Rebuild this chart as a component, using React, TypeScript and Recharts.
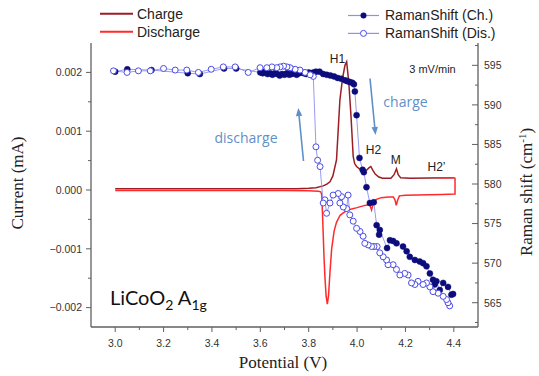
import React from 'react';
import { ComposedChart, Line, XAxis, YAxis, Customized } from 'recharts';

// ---- Current (mA) vs potential (V) ----
const chargePotential = [3.0, 3.2, 3.4, 3.6, 3.7, 3.75, 3.8, 3.83, 3.86, 3.875, 3.888, 3.9, 3.915, 3.929, 3.94, 3.95, 3.957, 3.966, 3.975, 3.984, 3.99, 3.998, 4.01, 4.025, 4.04, 4.05, 4.057, 4.065, 4.075, 4.09, 4.105, 4.14, 4.153, 4.163, 4.17, 4.18, 4.22, 4.3, 4.4];
const chargeCurrent = [0.00002, 0.00002, 0.00002, 0.00002, 0.00002, 0.000022, 0.000028, 0.00004, 0.00007, 0.0001, 0.00014, 0.00024, 0.00051, 0.00153, 0.0019, 0.00212, 0.00218, 0.00182, 0.00125, 0.00057, 0.00045, 0.0004, 0.00036, 0.00033, 0.00034, 0.00038, 0.0004, 0.00034, 0.00027, 0.00022, 0.0002, 0.0002, 0.00026, 0.00036, 0.00026, 0.00021, 0.0002, 0.000205, 0.00021];

const dischargePotential = [4.34, 4.4, 4.405, 4.405, 4.35, 4.3, 4.25, 4.2, 4.175, 4.168, 4.162, 4.157, 4.15, 4.13, 4.1, 4.08, 4.068, 4.06, 4.053, 4.045, 4.025, 4.0, 3.97, 3.95, 3.93, 3.915, 3.905, 3.895, 3.888, 3.882, 3.877, 3.872, 3.867, 3.863, 3.86, 3.857, 3.854, 3.85, 3.84, 3.8, 3.7, 3.5, 3.3, 3.0];
const dischargeCurrent = [0.000207, 0.00021, 0.0002, -0.00007, -0.000075, -0.00008, -0.000085, -0.00009, -0.0001, -0.00017, -0.00026, -0.00017, -0.00012, -0.00012, -0.00013, -0.00016, -0.00021, -0.00034, -0.00026, -0.00025, -0.00027, -0.0003, -0.00033, -0.00037, -0.00043, -0.00055, -0.0007, -0.001, -0.0014, -0.0018, -0.00194, -0.0018, -0.00147, -0.0011, -0.00074, -0.0004, -0.00008, -0.00003, -0.00002, -0.000012, -0.00001, -0.00001, -0.00001, -0.00001];

// ---- Raman shift (cm-1) vs potential (V) ----
const ramanChargePotential = [3.0, 3.05, 3.15, 3.3, 3.35, 3.45, 3.5, 3.6, 3.61, 3.62, 3.63, 3.64, 3.65, 3.66, 3.67, 3.68, 3.69, 3.7, 3.71, 3.72, 3.73, 3.74, 3.75, 3.76, 3.77, 3.78, 3.79, 3.8, 3.81, 3.82, 3.83, 3.845, 3.86, 3.875, 3.89, 3.905, 3.92, 3.935, 3.95, 3.96, 3.97, 3.98, 3.987, 3.991, 3.998, 4.01, 4.023, 4.028, 4.039, 4.053, 4.069, 4.081, 4.091, 4.094, 4.124, 4.136, 4.149, 4.163, 4.19, 4.205, 4.218, 4.239, 4.259, 4.273, 4.287, 4.301, 4.314, 4.321, 4.328, 4.342, 4.356, 4.376, 4.39, 4.397];
const ramanChargeShift = [594.2, 594.5, 594.4, 594.0, 593.9, 594.6, 594.6, 594.1, 594.0, 594.2, 593.9, 594.0, 593.8, 594.0, 593.9, 593.7, 593.9, 593.8, 594.0, 593.8, 593.9, 594.0, 593.8, 594.0, 594.1, 594.0, 593.9, 594.1, 594.0, 594.1, 594.2, 594.2, 593.9, 593.8, 593.7, 593.6, 593.4, 593.3, 593.1, 593.0, 592.9, 592.8, 592.6, 591.7, 588.7, 583.3, 581.8, 581.5, 579.6, 577.6, 577.7, 574.8, 573.6, 574.2, 571.9, 572.9, 572.8, 572.5, 572.1, 571.5, 570.8, 570.4, 570.2, 570.0, 569.6, 568.7, 567.9, 567.3, 567.7, 566.6, 567.5, 567.0, 566.0, 566.1];

const ramanDischargePotential = [4.383, 4.376, 4.37, 4.356, 4.335, 4.314, 4.301, 4.287, 4.273, 4.252, 4.239, 4.225, 4.211, 4.197, 4.177, 4.163, 4.149, 4.128, 4.122, 4.108, 4.094, 4.083, 4.07, 4.06, 4.046, 4.032, 4.025, 4.012, 3.998, 3.984, 3.97, 3.963, 3.957, 3.943, 3.936, 3.929, 3.922, 3.901, 3.888, 3.874, 3.867, 3.86, 3.847, 3.837, 3.83, 3.819, 3.806, 3.785, 3.764, 3.744, 3.723, 3.71, 3.696, 3.682, 3.668, 3.648, 3.627, 3.599, 3.55, 3.496, 3.447, 3.397, 3.344, 3.296, 3.248, 3.2, 3.145, 3.096, 3.049, 2.993];
const ramanDischargeShift = [564.6, 565.0, 565.4, 565.8, 566.2, 566.4, 567.0, 567.5, 567.3, 567.7, 567.3, 567.5, 568.5, 568.7, 568.5, 569.2, 569.8, 569.8, 570.4, 570.8, 571.3, 572.1, 572.1, 572.1, 572.3, 572.5, 573.4, 574.0, 574.4, 575.3, 576.1, 578.6, 576.9, 577.1, 578.4, 577.6, 578.8, 578.6, 577.6, 576.3, 578.0, 577.6, 582.2, 583.0, 584.7, 593.6, 593.8, 594.1, 594.4, 594.5, 594.7, 594.8, 594.9, 594.8, 594.7, 594.8, 594.7, 594.7, 594.1, 594.8, 594.8, 594.5, 594.1, 594.4, 594.4, 594.6, 594.3, 594.3, 594.1, 594.3];

// ---- Ticks ----
const potentialTicks = [2.9, 3.0, 3.1, 3.2, 3.3, 3.4, 3.5, 3.6, 3.7, 3.8, 3.9, 4.0, 4.1, 4.2, 4.3, 4.4, 4.5];
const currentTicks = [-0.002, -0.0015, -0.001, -0.0005, 0, 0.0005, 0.001, 0.0015, 0.002];
const ramanTicks = [562.5, 565, 567.5, 570, 572.5, 575, 577.5, 580, 582.5, 585, 587.5, 590, 592.5, 595, 597.5];

const chargeData = chargePotential.map((v, i) => ({ v, cur: chargeCurrent[i] }));
const dischargeData = dischargePotential.map((v, i) => ({ v, cur: dischargeCurrent[i] }));
const ramanChargeData = ramanChargePotential.map((v, i) => ({ v, raman: ramanChargeShift[i] }));
const ramanDischargeData = ramanDischargePotential.map((v, i) => ({ v, raman: ramanDischargeShift[i] }));

const SANS = 'Liberation Sans, Arial, sans-serif';
const SERIF = 'Liberation Serif, Times New Roman, serif';
const AXIS = '#606060';
const TICK_TEXT = '#333';

const C_CHARGE = '#9b1e24';
const C_DIS = '#ff2a2a';
const C_DOT = '#0c0c7c';
const C_OPEN = '#4b4be8';
const C_LINK = '#8e8ef0';
const C_NOTE = '#5f8fc9';

const BottomTick = (p: any) => {
  const v = p.payload.value;
  const major = Math.round(v * 10) % 2 === 0;
  if (v < 2.95 || v > 4.45) return <g />;
  return (
    <g>
      <line x1={p.x} y1={p.y} x2={p.x} y2={p.y + (major ? 5 : 3)} stroke={AXIS} strokeWidth={1} />
      {major && (
        <text x={p.x} y={p.y + 20} textAnchor="middle" fontSize={10.5} fontFamily={SANS} fill={TICK_TEXT}>
          {v.toFixed(1)}
        </text>
      )}
    </g>
  );
};

const TopTick = (p: any) => {
  const v = p.payload.value;
  const major = Math.round(v * 10) % 2 === 0;
  if (v < 2.95 || v > 4.45) return <g />;
  return <line x1={p.x} y1={p.y} x2={p.x} y2={p.y + (major ? 4 : 3)} stroke={AXIS} strokeWidth={1} />;
};

const LeftTick = (p: any) => {
  const v = p.payload.value;
  const major = Math.abs(Math.round(v * 2000)) % 2 === 0;
  const label = Math.abs(v) < 1e-9 ? '0.000' : (v < 0 ? '\u2212' : '') + Math.abs(v).toFixed(3);
  return (
    <g>
      <line x1={p.x - (major ? 5 : 3)} y1={p.y} x2={p.x} y2={p.y} stroke={AXIS} strokeWidth={1} />
      {major && (
        <text x={p.x - 9} y={p.y + 3.8} textAnchor="end" fontSize={10.5} fontFamily={SANS} fill={TICK_TEXT}>
          {label}
        </text>
      )}
    </g>
  );
};

const RightTick = (p: any) => {
  const v = p.payload.value;
  const major = Math.round(v * 2) % 10 === 0;
  return (
    <g>
      <line x1={p.x - (major ? 6 : 3)} y1={p.y} x2={p.x} y2={p.y} stroke={AXIS} strokeWidth={1} />
      {major && (
        <text x={p.x + 6} y={p.y + 3.8} textAnchor="start" fontSize={10.5} fontFamily={SANS} fill={TICK_TEXT}>
          {String(v)}
        </text>
      )}
    </g>
  );
};

const Arrow = ({ x1, y1, x2, y2 }: { x1: number; y1: number; x2: number; y2: number }) => {
  const dx = x2 - x1;
  const dy = y2 - y1;
  const len = Math.sqrt(dx * dx + dy * dy);
  const ux = dx / len;
  const uy = dy / len;
  const hl = 8;
  const hw = 3.2;
  const bx = x2 - ux * hl;
  const by = y2 - uy * hl;
  const pts = `${x2},${y2} ${bx - uy * hw},${by + ux * hw} ${bx + uy * hw},${by - ux * hw}`;
  return (
    <g>
      <line x1={x1} y1={y1} x2={bx} y2={by} stroke={C_NOTE} strokeWidth={1.6} />
      <polygon points={pts} fill={C_NOTE} />
    </g>
  );
};

const Overlay = () => (
  <g>
    {/* legend */}
    <line x1={100} y1={13.8} x2={133} y2={13.8} stroke={C_CHARGE} strokeWidth={2} />
    <text x={137} y={18.6} fontSize={14} fontFamily={SANS} fill="#222">Charge</text>
    <line x1={100} y1={31.7} x2={133} y2={31.7} stroke={C_DIS} strokeWidth={2} />
    <text x={137} y={36.6} fontSize={14} fontFamily={SANS} fill="#222">Discharge</text>
    <line x1={348} y1={15.5} x2={379} y2={15.5} stroke={C_LINK} strokeWidth={1.2} />
    <circle cx={363.5} cy={15.5} r={3} fill={C_DOT} />
    <text x={385} y={20.3} fontSize={14} fontFamily={SANS} fill="#222">RamanShift (Ch.)</text>
    <line x1={348} y1={33.4} x2={379} y2={33.4} stroke={C_LINK} strokeWidth={1.2} />
    <circle cx={363.5} cy={33.4} r={3} fill="#fff" stroke={C_OPEN} strokeWidth={1} />
    <text x={385} y={38.3} fontSize={14} fontFamily={SANS} fill="#222">RamanShift (Dis.)</text>

    {/* annotations */}
    <text x={337.5} y={63} textAnchor="middle" fontSize={12} fontFamily={SANS} fill="#222">H1</text>
    <text x={373.5} y={154} textAnchor="middle" fontSize={12} fontFamily={SANS} fill="#222">H2</text>
    <text x={395.7} y={164} textAnchor="middle" fontSize={12} fontFamily={SANS} fill="#222">M</text>
    <text x={436.5} y={171} textAnchor="middle" fontSize={12} fontFamily={SANS} fill="#222">H2{'\u2019'}</text>
    <text x={432.5} y={73} textAnchor="middle" fontSize={11} fontFamily={SANS} fill="#222">3 mV/min</text>
    <text x={405.5} y={107} textAnchor="middle" fontSize={14} fontFamily="Open Sans, sans-serif" fill={C_NOTE}>charge</text>
    <text x={246} y={143} textAnchor="middle" fontSize={14} fontFamily="Open Sans, sans-serif" fill={C_NOTE}>discharge</text>
    <Arrow x1={370} y1={78.5} x2={375.5} y2={135} />
    <Arrow x1={303.5} y1={161} x2={298.3} y2={108} />

    <text x={110} y={305} fontSize={20} fontFamily="Lato, Open Sans, sans-serif" fill="#111">
      LiCoO<tspan fontSize={14} dy={5}>2</tspan>
      <tspan dy={-5}> A</tspan>
      <tspan fontSize={14} dy={5}>1g</tspan>
    </text>

    {/* axis titles */}
    <text x={283} y={368} textAnchor="middle" fontSize={17} fontFamily={SERIF} fill="#222">Potential (V)</text>
    <text x={23} y={183} textAnchor="middle" fontSize={17} fontFamily={SERIF} fill="#222" transform="rotate(-90 23 183)">
      Current (mA)
    </text>
    <text x={532} y={192} textAnchor="middle" fontSize={17} fontFamily={SERIF} fill="#222" transform="rotate(-90 532 192)">
      Raman shift (cm<tspan fontSize={11} dy={-6}>-1</tspan><tspan dy={6}>)</tspan>
    </text>
  </g>
);

export default function App() {
  return (
    <div style={{ position: 'absolute', left: 0, top: 0, width: 539, height: 376, background: '#fff' }}>
      <ComposedChart width={539} height={376} margin={{ top: 43, right: 0, bottom: 0, left: 0 }}>
        <XAxis
          xAxisId="b"
          dataKey="v"
          type="number"
          orientation="bottom"
          height={49}
          domain={[2.9, 4.5]}
          allowDataOverflow
          ticks={potentialTicks}
          interval={0}
          tickSize={0}
          tickMargin={0}
          tickLine={false}
          tick={(p: any) => <BottomTick {...p} />}
          axisLine={{ stroke: AXIS, strokeWidth: 1.3 }}
        />
        <XAxis
          xAxisId="t"
          dataKey="v"
          type="number"
          orientation="top"
          height={0}
          domain={[2.9, 4.5]}
          allowDataOverflow
          ticks={potentialTicks}
          interval={0}
          tickSize={0}
          tickMargin={0}
          tickLine={false}
          tick={(p: any) => <TopTick {...p} />}
          axisLine={{ stroke: AXIS, strokeWidth: 1.3 }}
        />
        <YAxis
          yAxisId="l"
          orientation="left"
          type="number"
          width={91}
          domain={[-0.00233, 0.0025]}
          allowDataOverflow
          ticks={currentTicks}
          interval={0}
          tickSize={0}
          tickMargin={0}
          tickLine={false}
          tick={(p: any) => <LeftTick {...p} />}
          axisLine={{ stroke: AXIS, strokeWidth: 1.3 }}
        />
        <YAxis
          yAxisId="r"
          orientation="right"
          type="number"
          width={61}
          domain={[561.93, 597.82]}
          allowDataOverflow
          ticks={ramanTicks}
          interval={0}
          tickSize={0}
          tickMargin={0}
          tickLine={false}
          tick={(p: any) => <RightTick {...p} />}
          axisLine={{ stroke: AXIS, strokeWidth: 1.3 }}
        />
        <Line
          data={chargeData}
          dataKey="cur"
          xAxisId="b"
          yAxisId="l"
          type="linear"
          stroke={C_CHARGE}
          strokeWidth={1.5}
          dot={false}
          isAnimationActive={false}
          name="Charge"
        />
        <Line
          data={dischargeData}
          dataKey="cur"
          xAxisId="b"
          yAxisId="l"
          type="linear"
          stroke={C_DIS}
          strokeWidth={1.5}
          dot={false}
          isAnimationActive={false}
          name="Discharge"
        />
        <Line
          data={ramanChargeData}
          dataKey="raman"
          xAxisId="b"
          yAxisId="r"
          type="linear"
          stroke={C_LINK}
          strokeWidth={0.9}
          dot={{ r: 3, fill: C_DOT, stroke: C_DOT, strokeWidth: 0.5 }}
          isAnimationActive={false}
          name="RamanShift (Ch.)"
        />
        <Line
          data={ramanDischargeData}
          dataKey="raman"
          xAxisId="b"
          yAxisId="r"
          type="linear"
          stroke={C_LINK}
          strokeWidth={0.9}
          dot={{ r: 3, fill: '#fff', stroke: C_OPEN, strokeWidth: 1 }}
          isAnimationActive={false}
          name="RamanShift (Dis.)"
        />
        <Customized component={Overlay} />
      </ComposedChart>
    </div>
  );
}
